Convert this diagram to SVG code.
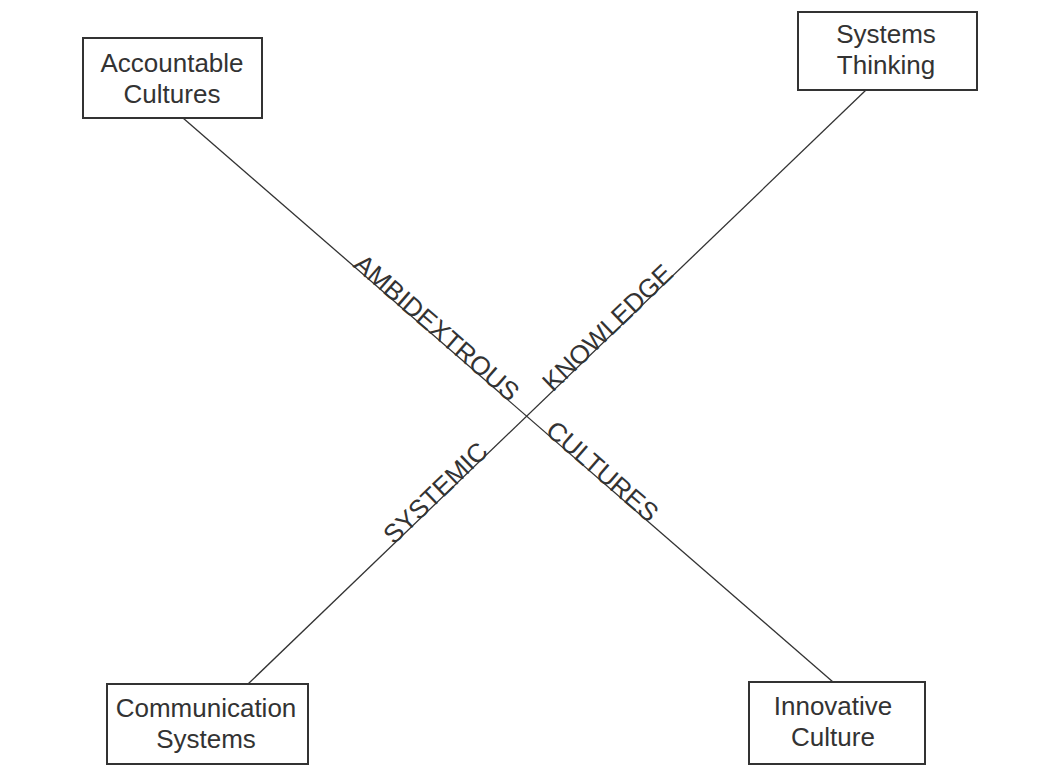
<svg xmlns="http://www.w3.org/2000/svg" width="1053" height="779" viewBox="0 0 1053 779">
<style>
.box{fill:#fff;stroke:#333;stroke-width:2}
.t{font-family:"Liberation Sans",Arial,sans-serif;font-size:26px;fill:#333;text-anchor:middle}
.lbl{font-family:"Liberation Sans",Arial,sans-serif;font-size:26px;fill:#333}
.ln{stroke:#333;stroke-width:1.3;fill:none}
</style>
<rect width="1053" height="779" fill="#fff"/>
<g id="connectors">
<line class="ln" x1="183" y1="118" x2="833" y2="682"/>
<line class="ln" x1="866" y1="90" x2="248" y2="684"/>
<text class="lbl" transform="translate(353,265.5) rotate(40.94)" dy="1">AMBIDEXTROUS</text>
<text class="lbl" transform="translate(545,432) rotate(40.94)" dy="1">CULTURES</text>
<text class="lbl" transform="translate(552,392) rotate(-43.87)" dy="1">KNOWLEDGE</text>
<text class="lbl" transform="translate(393,544.6) rotate(-43.87)" dy="1">SYSTEMIC</text>
</g>
<g id="accountable">
<rect class="box" x="83" y="38" width="179" height="80"/>
<text class="t" x="172" y="72">Accountable</text>
<text class="t" x="172" y="103">Cultures</text>
</g>
<g id="systems-thinking">
<rect class="box" x="798" y="12" width="179" height="78"/>
<text class="t" x="886" y="43">Systems</text>
<text class="t" x="886" y="74">Thinking</text>
</g>
<g id="communication">
<rect class="box" x="107" y="684" width="201" height="80"/>
<text class="t" x="206" y="717">Communication</text>
<text class="t" x="206" y="748">Systems</text>
</g>
<g id="innovative">
<rect class="box" x="749" y="682" width="176" height="82"/>
<text class="t" x="833" y="715">Innovative</text>
<text class="t" x="833" y="746">Culture</text>
</g>
</svg>
